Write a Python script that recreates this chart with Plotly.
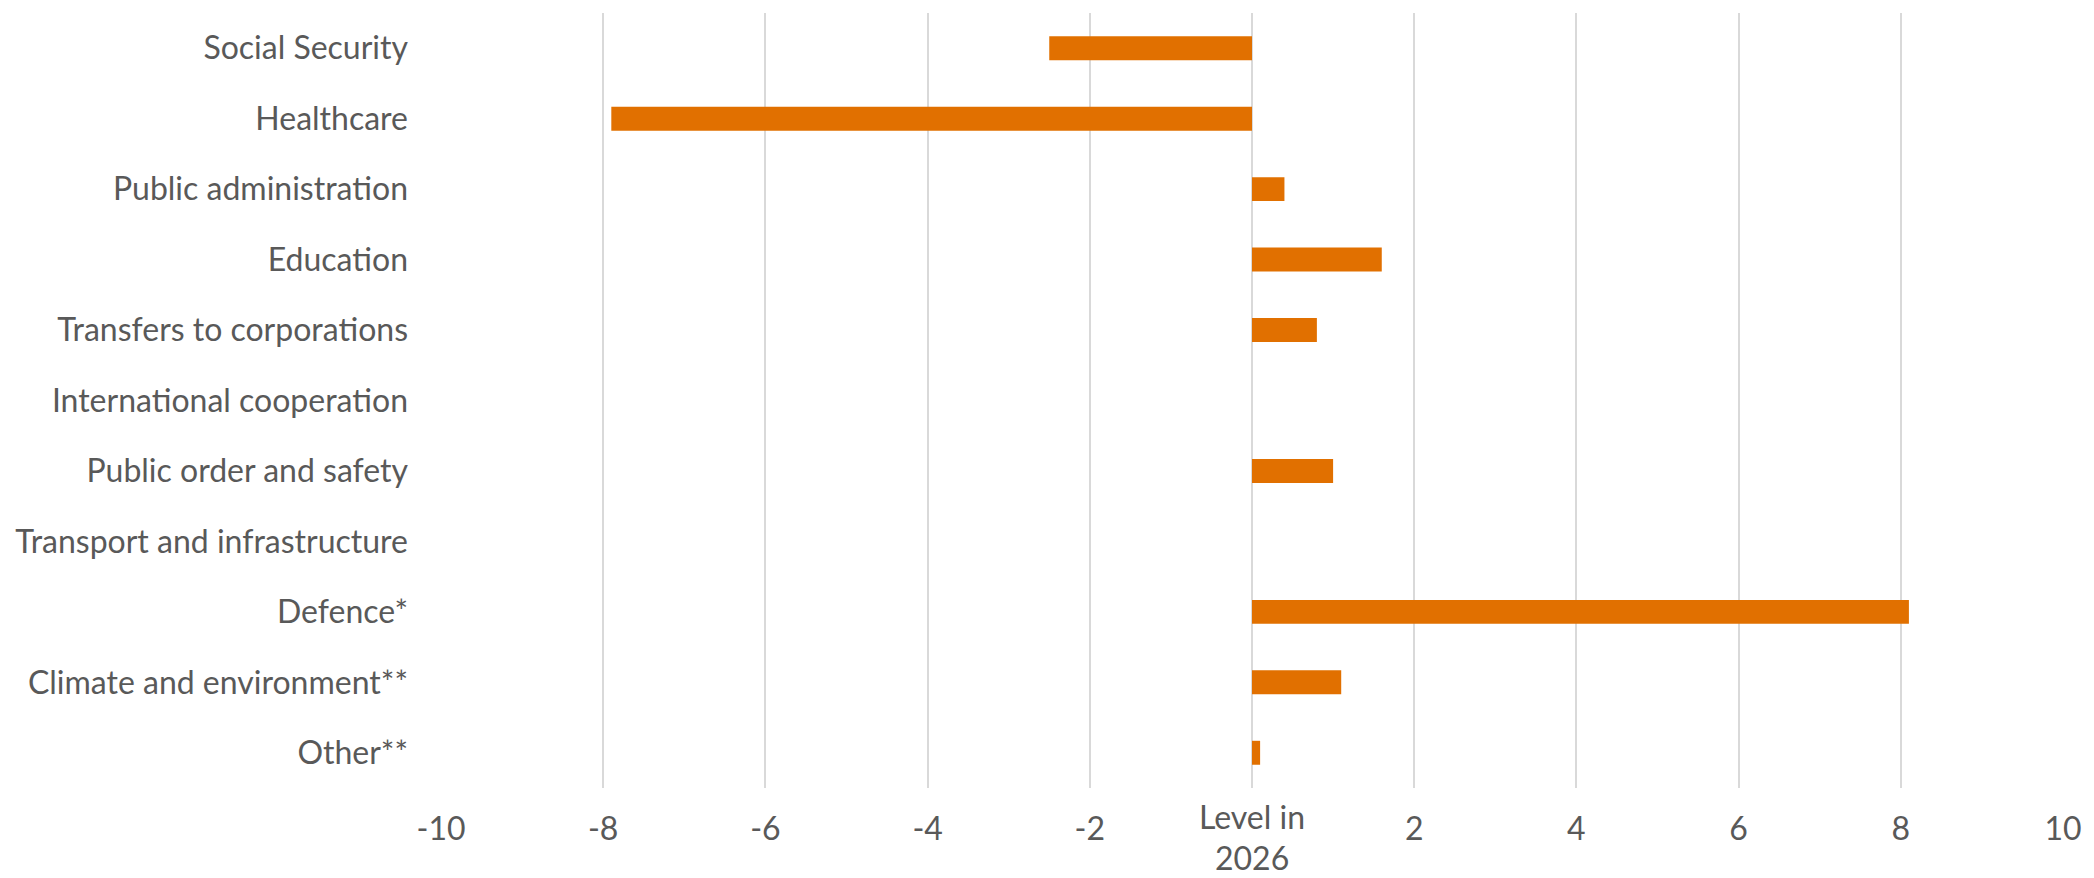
import plotly.graph_objects as go

categories = [
    "Social Security",
    "Healthcare",
    "Public administration",
    "Education",
    "Transfers to corporations",
    "International cooperation",
    "Public order and safety",
    "Transport and infrastructure",
    "Defence*",
    "Climate and environment**",
    "Other**",
]
values = [-2.5, -7.9, 0.4, 1.6, 0.8, 0.0, 1.0, 0.0, 8.1, 1.1, 0.1]

tick_vals = [-10, -8, -6, -4, -2, 0, 2, 4, 6, 8, 10]
tick_text = ["-10", "-8", "-6", "-4", "-2", "", "2", "4", "6", "8", "10"]
zero_label_lines = ["Level in", "2026"]

FONT = "Lato, Open Sans, sans-serif"
FS = 32
TEXT = "#595959"
ORANGE = "#E17000"

fig = go.Figure(
    go.Bar(
        y=categories,
        x=values,
        orientation="h",
        width=0.34,
        marker=dict(color=ORANGE, line=dict(width=0)),
    )
)

fig.update_layout(
    width=2094,
    height=878,
    margin=dict(l=441, r=21, t=13, b=90),
    paper_bgcolor="white",
    plot_bgcolor="white",
    showlegend=False,
    font=dict(family=FONT, size=FS, color=TEXT),
)

fig.update_xaxes(
    range=[-10, 10],
    tickvals=tick_vals,
    ticktext=tick_text,
    showgrid=True,
    gridcolor="#d9d9d9",
    gridwidth=1.5,
    zeroline=False,
    showline=False,
    ticks="",
    ticklabelstandoff=19,
    tickfont=dict(family=FONT, size=FS, color=TEXT),
)

fig.update_yaxes(
    categoryorder="array",
    categoryarray=categories,
    autorange="reversed",
    showgrid=False,
    zeroline=False,
    showline=False,
    ticks="",
    ticklabelstandoff=32,
    tickfont=dict(family=FONT, size=FS, color=TEXT),
)

for line, shift in zip(zero_label_lines, [-28, -69]):
    fig.add_annotation(
        x=0, xref="x", y=0, yref="paper",
        text=line, showarrow=False,
        xanchor="center", yanchor="middle", yshift=shift,
        font=dict(family=FONT, size=FS, color=TEXT),
    )

fig.write_html("out.html")
